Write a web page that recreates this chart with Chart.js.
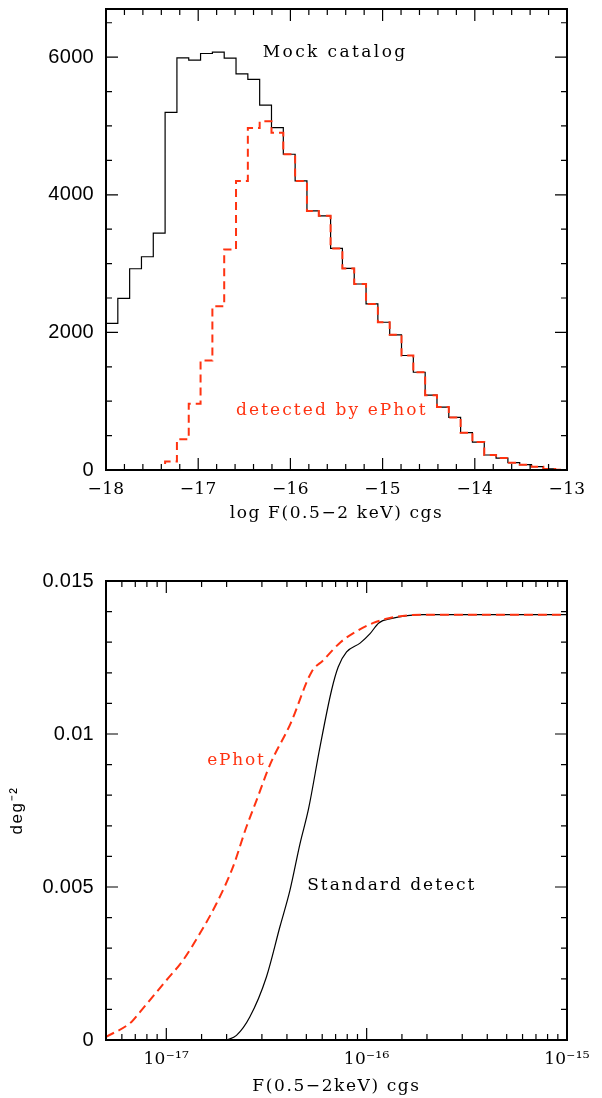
<!DOCTYPE html>
<html>
<head>
<meta charset="utf-8">
<script src="https://cdn.jsdelivr.net/npm/chart.js@4.4.0/dist/chart.umd.min.js"></script>
<style>
  html, body { margin: 0; padding: 0; background: #fff; }
  #wrap { position: relative; width: 602px; height: 1098px; }
  canvas { position: absolute; left: 0; }
</style>
</head>
<body>
<div id="wrap">
  <canvas id="hist" width="602" height="549" style="top:0"></canvas>
  <canvas id="cum" width="602" height="549" style="top:549px"></canvas>
</div>
<script>
// top panel: counts per bin of log F(0.5-2 keV), 39 bins between -18 and -13
const binLo = -18, binHi = -13, nBins = 39;
const mockCounts = [2132, 2495, 2925, 3099, 3443, 5198, 5990, 5956, 6053, 6072,
                    5985, 5758, 5677, 5304, 4975, 4589, 4202, 3766, 3694, 3220,
                    2930, 2703, 2413, 2147, 1964, 1664, 1421, 1088, 914, 764,
                    542, 406, 218, 174, 107, 78, 49, 15, 3];
const ephotCounts = [0, 0, 0, 0, 0, 122, 446, 963, 1591, 2379,
                     3205, 4202, 4970, 5067, 4902, 4589, 4202, 3766, 3694, 3220,
                     2930, 2703, 2413, 2147, 1964, 1664, 1421, 1088, 914, 764,
                     542, 406, 218, 174, 107, 78, 49, 15, 3];
const histYMax = 6700;

// bottom panel: sky coverage vs flux
const fluxStd = [2.0e-17, 2.24e-17, 2.61e-17, 3.16e-17, 3.69e-17, 4.14e-17, 4.65e-17, 5.13e-17,
                 5.85e-17, 6.68e-17, 7.21e-17, 7.94e-17, 9.27e-17, 1.04e-16, 1.15e-16, 1.32e-16,
                 1.92e-16, 1.0e-15];
const areaStd = [0, 0.00015, 0.00075, 0.00206, 0.0037, 0.00489, 0.00642, 0.00756,
                 0.00958, 0.01143, 0.01219, 0.01268, 0.01297, 0.01328, 0.01363, 0.01377,
                 0.0139, 0.0139];
const fluxEphot = [5.0e-18, 6.7e-18, 7.4e-18, 1.0e-17, 1.21e-17, 1.47e-17, 1.78e-17, 2.15e-17,
                   2.51e-17, 2.82e-17, 3.31e-17, 4.17e-17, 5.31e-17, 6.07e-17, 7.41e-17, 8.91e-17,
                   1.08e-16, 1.32e-16, 1.92e-16, 1.0e-15];
const areaEphot = [0.0001, 0.00059, 0.00092, 0.00195, 0.0026, 0.00348, 0.00446, 0.00565,
                   0.00696, 0.00783, 0.00903, 0.01034, 0.01203, 0.01241, 0.013, 0.01336,
                   0.01363, 0.0138, 0.0139, 0.0139];

const RED = '#ff3311';
const SERIF = 'DejaVu Serif';
const SANS = 'Liberation Sans';

Chart.defaults.font.family = SERIF;
Chart.defaults.font.size = 17;
Chart.defaults.color = '#000';

const binEdges = [];
for (let i = 0; i <= nBins; i++) binEdges.push(binLo + i * (binHi - binLo) / nBins);

function histPoints(counts) {
    return binEdges.map((e, i) => ({ x: e, y: counts[Math.min(i, counts.length - 1)] }));
}
function curvePoints(xs, ys) {
    return xs.map((x, i) => ({ x: x, y: ys[i] }));
}

const SUP = { '-': '⁻', '0': '⁰', '1': '¹', '2': '²', '3': '³', '4': '⁴', '5': '⁵', '6': '⁶', '7': '⁷', '8': '⁸', '9': '⁹' };
function isDecade(v) {
    const l = Math.log10(v);
    return Math.abs(l - Math.round(l)) < 1e-6;
}
function isMultiple(v, step) {
    return Math.abs(v / step - Math.round(v / step)) < 1e-6;
}
// fixed axis box size, no extra room for overhanging labels
function fixBox(w, h) {
    return s => {
        if (w) s.width = w;
        if (h) s.height = h;
        s.paddingTop = s.paddingBottom = s.paddingLeft = s.paddingRight = 0;
    };
}

// an axis that only carries a title; grid.z > 0 puts it after the datasets
function titleAxis(axis, text, font, pad, w, h) {
    return {
        type: 'linear',
        position: axis === 'x' ? 'bottom' : 'left',
        weight: 1,
        afterFit: fixBox(w, h),
        grid: { display: false, z: 1 },
        border: { display: false },
        ticks: { display: false },
        title: { display: true, text: text, font: { family: font, size: 17 }, padding: pad }
    };
}

// ticks inside the frame on all four sides + frame + text labels
const frameTicks = {
    id: 'frameTicks',
    beforeDraw(chart) { chart.ctx.letterSpacing = '0.3px'; },
    afterDatasetsDraw(chart, args, opts) {
        const { ctx, chartArea: a, scales } = chart;
        ctx.save();
        ctx.strokeStyle = '#000';
        ctx.lineWidth = 1.2;
        ctx.beginPath();
        scales.x.ticks.forEach(t => {
            const px = scales.x.getPixelForValue(t.value);
            const major = opts.xMajor === 'decade' ? isDecade(t.value) : isMultiple(t.value, opts.xMajor);
            const len = major ? 12 : 6;
            ctx.moveTo(px, a.bottom); ctx.lineTo(px, a.bottom - len);
            ctx.moveTo(px, a.top); ctx.lineTo(px, a.top + len);
        });
        scales.y.ticks.forEach(t => {
            const py = scales.y.getPixelForValue(t.value);
            const len = isMultiple(t.value, opts.yMajor) ? 12 : 6;
            ctx.moveTo(a.left, py); ctx.lineTo(a.left + len, py);
            ctx.moveTo(a.right, py); ctx.lineTo(a.right - len, py);
        });
        ctx.stroke();
        ctx.lineWidth = 2;
        ctx.strokeRect(a.left, a.top, a.right - a.left, a.bottom - a.top);
        ctx.font = '17px "' + SERIF + '"';
        ctx.textAlign = 'left';
        ctx.textBaseline = 'alphabetic';
        (opts.labels || []).forEach(l => {
            ctx.letterSpacing = l.spacing + 'px';
            ctx.fillStyle = l.color;
            ctx.fillText(l.text, scales.x.getPixelForValue(l.x), scales.y.getPixelForValue(l.y));
        });
        ctx.restore();
        // the axis titles come after this hook
        ctx.letterSpacing = '1.6px';
    },
    afterDraw(chart) { chart.ctx.letterSpacing = '0px'; }
};

new Chart(document.getElementById('hist'), {
    type: 'line',
    data: {
        datasets: [{
            label: 'detected by ePhot',
            data: histPoints(ephotCounts),
            stepped: 'before',
            borderColor: RED,
            borderWidth: 2,
            borderDash: [8, 5],
            pointRadius: 0
        }, {
            label: 'Mock catalog',
            data: histPoints(mockCounts),
            stepped: 'before',
            borderColor: '#000',
            borderWidth: 1.2,
            pointRadius: 0
        }]
    },
    options: {
        responsive: false,
        animation: false,
        layout: { padding: { top: 9, right: 35, left: 0, bottom: 0 } },
        plugins: {
            legend: { display: false },
            tooltip: { enabled: false },
            frameTicks: {
                xMajor: 1,
                yMajor: 2000,
                labels: [
                    { text: 'Mock catalog', x: -16.3, y: 6000, color: '#000', spacing: 2.4 },
                    { text: 'detected by ePhot', x: -16.59, y: 800, color: RED, spacing: 2.1 }
                ]
            }
        },
        scales: {
            x: {
                type: 'linear',
                min: binLo,
                max: binHi,
                weight: 0,
                afterFit: fixBox(0, 30),
                grid: { display: false, drawTicks: false },
                border: { display: false },
                ticks: {
                    stepSize: 0.2,
                    autoSkip: false,
                    maxRotation: 0,
                    padding: 9,
                    callback: v => isMultiple(v, 1) ? (v < 0 ? '−' : '') + Math.abs(Math.round(v)) : ''
                }
            },
            xt: titleAxis('x', 'log F(0.5−2 keV) cgs', SERIF, { top: 0, bottom: 25 }, 0, 49),
            y: {
                min: 0,
                max: histYMax,
                afterFit: fixBox(106, 0),
                // fixed 500 steps up to the top of the frame
                afterBuildTicks: s => {
                    const t = [];
                    for (let v = 0; v <= s.max; v += 500) t.push({ value: v });
                    s.ticks = t;
                },
                grid: { display: false, drawTicks: false },
                border: { display: false },
                ticks: {
                    autoSkip: false,
                    padding: 12,
                    font: { family: SANS, size: 20 },
                    callback: v => isMultiple(v, 2000) ? String(v) : ''
                }
            }
        }
    },
    plugins: [frameTicks]
});

new Chart(document.getElementById('cum'), {
    type: 'line',
    data: {
        datasets: [{
            label: 'ePhot',
            data: curvePoints(fluxEphot, areaEphot),
            borderColor: RED,
            borderWidth: 2,
            borderDash: [9, 5],
            cubicInterpolationMode: 'monotone',
            pointRadius: 0
        }, {
            label: 'Standard detect',
            data: curvePoints(fluxStd, areaStd),
            borderColor: '#000',
            borderWidth: 1.2,
            cubicInterpolationMode: 'monotone',
            pointRadius: 0
        }]
    },
    options: {
        responsive: false,
        animation: false,
        layout: { padding: { top: 32, right: 35, left: 0, bottom: 0 } },
        plugins: {
            legend: { display: false },
            tooltip: { enabled: false },
            frameTicks: {
                xMajor: 'decade',
                yMajor: 0.005,
                labels: [
                    { text: 'ePhot', x: 1.6e-17, y: 0.009, color: RED, spacing: 1.8 },
                    { text: 'Standard detect', x: 5.05e-17, y: 0.0049, color: '#000', spacing: 2.0 }
                ]
            }
        },
        scales: {
            x: {
                type: 'logarithmic',
                min: 5e-18,
                max: 1e-15,
                weight: 0,
                afterFit: fixBox(0, 32),
                grid: { display: false, drawTicks: false },
                border: { display: false },
                ticks: {
                    autoSkip: false,
                    maxRotation: 0,
                    padding: 9,
                    callback: v => {
                        if (!isDecade(v)) return '';
                        const e = String(Math.round(Math.log10(v)));
                        return '10' + e.split('').map(c => SUP[c]).join('');
                    }
                }
            },
            xt: titleAxis('x', 'F(0.5−2keV) cgs', SERIF, { top: 0, bottom: 1 }, 0, 26),
            y: {
                min: 0,
                max: 0.015,
                weight: 0,
                afterFit: fixBox(76, 0),
                grid: { display: false, drawTicks: false },
                border: { display: false },
                ticks: {
                    stepSize: 0.001,
                    autoSkip: false,
                    padding: 12,
                    font: { family: SANS, size: 20 },
                    callback: v => isMultiple(v, 0.005) ? String(+v.toFixed(3)) : ''
                }
            },
            yt: titleAxis('y', 'deg⁻²', SANS, { top: 7, bottom: 0 }, 30, 0)
        }
    },
    plugins: [frameTicks]
});
</script>
</body>
</html>
